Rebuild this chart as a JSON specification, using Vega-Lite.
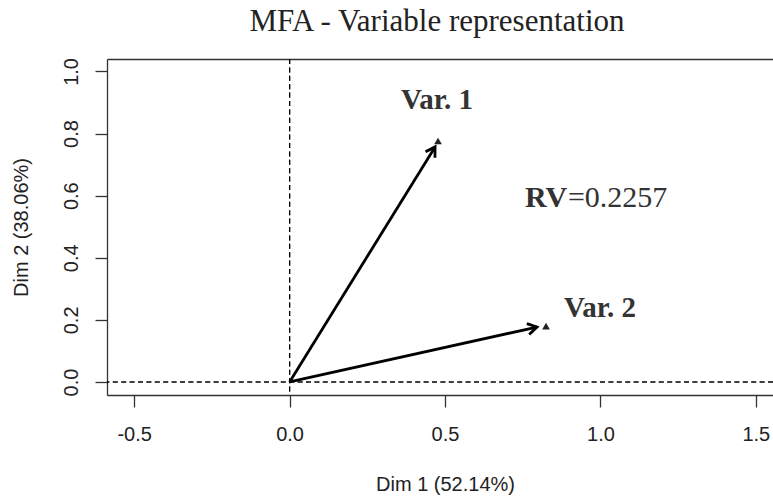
{
  "$schema": "https://vega.github.io/schema/vega-lite/v6.json",
  "width": 666,
  "height": 336,
  "autosize": "none",
  "padding": {"left": 107, "top": 59, "right": 0, "bottom": 103},
  "background": "white",
  "config": {"view": {"stroke": null}},
  "title": {
    "text": "MFA - Variable representation",
    "font": "Liberation Serif",
    "fontSize": 31,
    "fontWeight": "normal",
    "color": "#222222",
    "anchor": "middle",
    "baseline": "alphabetic",
    "offset": -4,
    "dx": -3
  },
  "datasets": {
    "vars": [
      {"var": "Var. 1", "x0": 0, "y0": 0, "x": 0.4775, "y": 0.776, "tipx": 0.468, "tipy": 0.757},
      {"var": "Var. 2", "x0": 0, "y0": 0, "x": 0.825, "y": 0.180, "tipx": 0.796, "tipy": 0.177}
    ]
  },
  "data": {"name": "vars"},
  "resolve": {"axis": {"x": "independent"}},
  "layer": [
    {
      "mark": {"type": "point", "shape": "triangle-up", "size": 60, "filled": true, "color": "#222222", "opacity": 1},
      "encoding": {
        "x": {
          "field": "x",
          "type": "quantitative",
          "scale": {"domain": [-0.5875, 1.5553], "nice": false, "zero": false},
          "axis": {
            "orient": "bottom",
            "values": [-0.5, 0, 0.5, 1, 1.5],
            "labelExpr": "datum.value < 0 ? '-' + format(-datum.value, '.1f') : format(datum.value, '.1f')",
            "grid": false,
            "domainColor": "#333333",
            "domainWidth": 1.3,
            "tickColor": "#333333",
            "tickWidth": 1.3,
            "tickSize": 12,
            "labelFont": "Liberation Sans",
            "labelFontSize": 20,
            "labelColor": "#222222",
            "labelPadding": 17,
            "labelFlush": false,
            "labelOverlap": false,
            "title": "Dim 1 (52.14%)",
            "titleFont": "Liberation Sans",
            "titleFontSize": 20,
            "titleFontWeight": "normal",
            "titleColor": "#222222",
            "titleBaseline": "alphabetic",
            "titleAlign": "center",
            "titleX": 338,
            "titleY": 95
          }
        },
        "y": {
          "field": "y",
          "type": "quantitative",
          "scale": {"domain": [-0.0419, 1.040], "nice": false, "zero": false},
          "axis": {
            "orient": "left",
            "values": [0, 0.2, 0.4, 0.6, 0.8, 1.0],
            "format": ".1f",
            "grid": false,
            "domainColor": "#333333",
            "domainWidth": 1.3,
            "tickColor": "#333333",
            "tickWidth": 1.3,
            "tickSize": 12,
            "labelFont": "Liberation Sans",
            "labelFontSize": 20,
            "labelColor": "#222222",
            "labelAngle": -90,
            "labelAlign": "center",
            "labelBaseline": "bottom",
            "labelPadding": 14,
            "labelFlush": false,
            "labelOverlap": false,
            "title": "Dim 2 (38.06%)",
            "titleFont": "Liberation Sans",
            "titleFontSize": 20,
            "titleFontWeight": "normal",
            "titleColor": "#222222",
            "titleAngle": -90,
            "titleAlign": "center",
            "titleBaseline": "middle",
            "titleX": -86,
            "titleY": 168
          }
        }
      }
    },
    {
      "mark": {"type": "rule", "color": "black", "strokeWidth": 2.8},
      "encoding": {
        "x": {"field": "x0", "type": "quantitative", "axis": {"orient": "top", "ticks": false, "labels": false, "title": null, "grid": false, "domainColor": "#333333", "domainWidth": 1.3}},
        "y": {"field": "y0", "type": "quantitative"},
        "x2": {"field": "tipx"},
        "y2": {"field": "tipy"}
      }
    },
    {
      "mark": {"type": "rule", "color": "black", "strokeWidth": 1.2, "strokeDash": [5, 3.4]},
      "encoding": {
        "x": {"datum": 0, "type": "quantitative", "axis": null}
      }
    },
    {
      "mark": {"type": "rule", "color": "black", "strokeWidth": 1.2, "strokeDash": [5, 3.4]},
      "encoding": {
        "y": {"datum": 0, "type": "quantitative"}
      }
    },
    {
      "transform": [{"filter": "datum.var === 'Var. 1'"}],
      "mark": {"type": "point", "shape": "M -1 -0.6 L 0 0 L -1 0.6", "size": 340, "filled": false, "stroke": "black", "strokeWidth": 2.8, "opacity": 1, "angle": -58.5},
      "encoding": {
        "x": {"field": "tipx", "type": "quantitative", "axis": null},
        "y": {"field": "tipy", "type": "quantitative"}
      }
    },
    {
      "transform": [{"filter": "datum.var === 'Var. 2'"}],
      "mark": {"type": "point", "shape": "M -1 -0.6 L 0 0 L -1 0.6", "size": 340, "filled": false, "stroke": "black", "strokeWidth": 2.8, "opacity": 1, "angle": -12.4},
      "encoding": {
        "x": {"field": "tipx", "type": "quantitative", "axis": null},
        "y": {"field": "tipy", "type": "quantitative"}
      }
    },
    {
      "transform": [{"filter": "datum.var === 'Var. 1'"}],
      "mark": {"type": "text", "font": "Liberation Serif", "fontWeight": "bold", "fontSize": 29, "color": "#333333", "align": "center", "baseline": "alphabetic", "dx": -1, "dy": -32},
      "encoding": {
        "x": {"field": "x", "type": "quantitative", "axis": null},
        "y": {"field": "y", "type": "quantitative"},
        "text": {"field": "var"}
      }
    },
    {
      "transform": [{"filter": "datum.var === 'Var. 2'"}],
      "mark": {"type": "text", "font": "Liberation Serif", "fontWeight": "bold", "fontSize": 29, "color": "#333333", "align": "center", "baseline": "alphabetic", "dx": 54, "dy": -9},
      "encoding": {
        "x": {"field": "x", "type": "quantitative", "axis": null},
        "y": {"field": "y", "type": "quantitative"},
        "text": {"field": "var"}
      }
    },
    {
      "data": {"values": [{"stat": "RV", "value": "=0.2257", "x": 0.757, "y": 0.5634}]},
      "mark": {"type": "text", "font": "Liberation Serif", "fontWeight": "bold", "fontSize": 30, "color": "#333333", "align": "left", "baseline": "alphabetic"},
      "encoding": {
        "x": {"field": "x", "type": "quantitative", "axis": null},
        "y": {"field": "y", "type": "quantitative"},
        "text": {"field": "stat"}
      }
    },
    {
      "data": {"values": [{"stat": "RV", "value": "=0.2257", "x": 0.757, "y": 0.5634}]},
      "mark": {"type": "text", "font": "Liberation Serif", "fontWeight": "normal", "fontSize": 30, "color": "#333333", "align": "left", "baseline": "alphabetic", "dx": 43},
      "encoding": {
        "x": {"field": "x", "type": "quantitative", "axis": null},
        "y": {"field": "y", "type": "quantitative"},
        "text": {"field": "value"}
      }
    }
  ]
}
